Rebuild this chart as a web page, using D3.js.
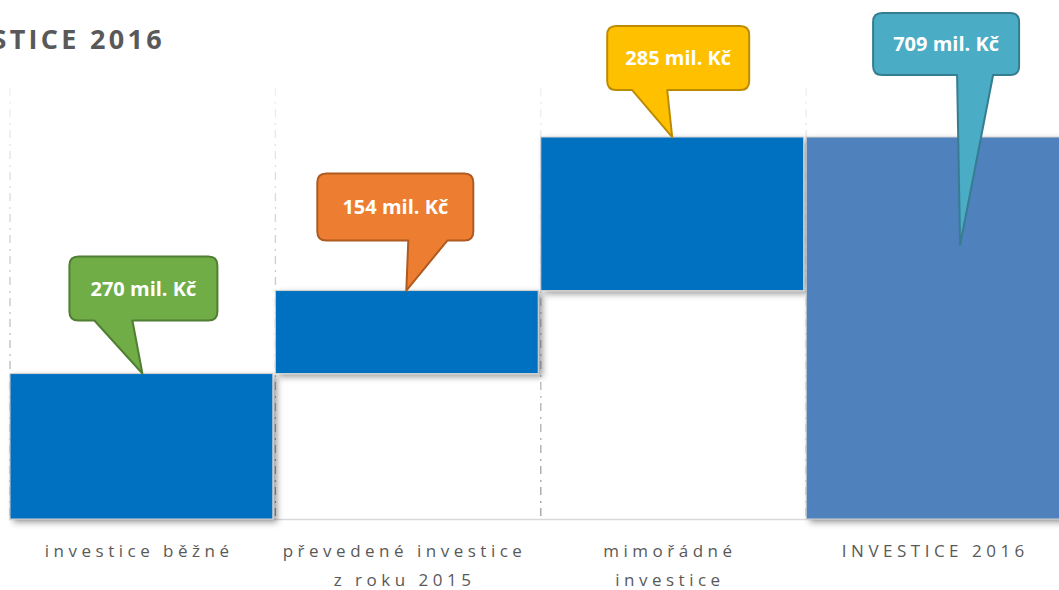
<!DOCTYPE html>
<html>
<head>
<meta charset="utf-8">
<script src="https://cdn.jsdelivr.net/npm/d3@7"></script>
<style>
  body { margin: 0; background: #fff; overflow: hidden; }
  svg { display: block; }
</style>
</head>
<body>
<svg id="chart" width="1059" height="590"></svg>
<script>
// data
const categories = ["investice běžné", "převedené investice|z roku 2015", "mimořádné|investice", "INVESTICE 2016"];
const values = [270, 154, 285];
const totalValue = 709;
const calloutTexts = ["270 mil. Kč", "154 mil. Kč", "285 mil. Kč", "709 mil. Kč"];
const title = "INVESTICE 2016";

// layout for the callouts (offsets from the point the tail touches)
const callouts = [
    { fill: "#70AD47", stroke: "#507E32", pdx: 1.5, pdy: 0, bx: -73, by: -117, w: 148, h: 64, tl: -48, tr: -10 },
    { fill: "#ED7D31", stroke: "#AE5A21", pdx: 0, pdy: 0, bx: -89, by: -117, w: 156, h: 67, tl: 2, tr: 41 },
    { fill: "#FFC000", stroke: "#BC8C00", pdx: 0.5, pdy: 0, bx: -65, by: -111, w: 142, h: 64, tl: -40, tr: -5 },
    { fill: "#4BACC6", stroke: "#357D91", pdx: 23, pdy: 108, bx: -87, by: -232, w: 146, h: 62, tl: -3, tr: 33 }
];

const svg = d3.select("#chart");

// waterfall steps
let acc = 0;
const bars = values.map((v, i) => {
    const b = { cat: categories[i], start: acc, end: acc + v, total: false };
    acc += v;
    return b;
});
bars.push({ cat: categories[3], start: 0, end: totalValue, total: true });

const x = d3.scaleBand().domain(categories).range([9, 1069]).paddingInner(0.006);
const y = d3.scaleLinear().domain([0, 800]).range([519, 88]);

const defs = svg.append("defs");
const f = defs.append("filter").attr("id", "shadow")
    .attr("x", "-5%").attr("y", "-5%").attr("width", "115%").attr("height", "120%");
f.append("feDropShadow").attr("dx", 4).attr("dy", 3).attr("stdDeviation", 3)
    .attr("flood-color", "#000").attr("flood-opacity", 0.38);

// gridline gets darker towards the bottom
defs.append("linearGradient")
    .attr("id", "grid-grad")
    .attr("gradientUnits", "userSpaceOnUse")
    .attr("x1", 0).attr("y1", y(800))
    .attr("x2", 0).attr("y2", y(0))
    .selectAll("stop")
    .data([
        { offset: "0%", color: "#f0f0f0" },
        { offset: "100%", color: "#9a9a9a" },
    ])
    .join("stop")
    .attr("offset", d => d.offset)
    .attr("stop-color", d => d.color);

// vertical dash-dot gridlines at band edges
svg.append("g").selectAll("line").data(categories).join("line")
    .attr("x1", d => x(d) + 1).attr("x2", d => x(d) + 1.001)
    .attr("y1", y(800)).attr("y2", y(0))
    .attr("stroke", "url(#grid-grad)").attr("stroke-width", 1.3)
    .attr("stroke-dasharray", "8,6,2,5");

// baseline
svg.append("line")
    .attr("x1", x(categories[0])).attr("x2", 1059)
    .attr("y1", y(0) + 0.5).attr("y2", y(0) + 0.5)
    .attr("stroke", "#d9d9d9").attr("stroke-width", 1.5);

// bars
svg.append("g").selectAll("rect").data(bars).join("rect")
    .attr("x", d => x(d.cat) + 1)
    .attr("y", d => y(d.end))
    .attr("width", x.bandwidth() - 1)
    .attr("height", d => y(d.start) - y(d.end))
    .attr("fill", d => d.total ? "#4F81BD" : "#0070C0")
    .attr("stroke", "#d0d0d0").attr("stroke-width", 1)
    .attr("filter", "url(#shadow)");

// callouts
function calloutPath(px, py, c) {
    const r = 9;
    const l = px + c.bx, t = py + c.by, rr = l + c.w, b = t + c.h;
    const p = d3.path();
    p.moveTo(l + r, t);
    p.lineTo(rr - r, t);
    p.quadraticCurveTo(rr, t, rr, t + r);
    p.lineTo(rr, b - r);
    p.quadraticCurveTo(rr, b, rr - r, b);
    p.lineTo(px + c.tr, b);
    p.lineTo(px, py);
    p.lineTo(px + c.tl, b);
    p.lineTo(l + r, b);
    p.quadraticCurveTo(l, b, l, b - r);
    p.lineTo(l, t + r);
    p.quadraticCurveTo(l, t, l + r, t);
    p.closePath();
    return p.toString();
}

const cg = svg.append("g").selectAll("g").data(bars).join("g");
cg.each(function(d, i) {
    const c = callouts[i];
    const px = x(d.cat) + x.bandwidth() / 2 + c.pdx;
    const py = y(d.end) + c.pdy;
    const g = d3.select(this);
    g.append("path").attr("d", calloutPath(px, py, c))
        .attr("fill", c.fill).attr("stroke", c.stroke).attr("stroke-width", 2)
        .attr("stroke-linejoin", "round");
    g.append("text")
        .attr("x", px + c.bx + c.w / 2)
        .attr("y", py + c.by + c.h / 2)
        .attr("dy", "0.36em")
        .attr("text-anchor", "middle")
        .attr("font-family", "Open Sans, sans-serif")
        .attr("font-weight", "bold")
        .attr("font-size", 20)
        .attr("fill", "#fff")
        .text(calloutTexts[i]);
});

// category labels
const ls = 4.5;
const lab = svg.append("g").selectAll("text").data(categories).join("text")
    .attr("x", d => x(d) + x.bandwidth() / 2 + ls / 2 - 4)
    .attr("y", 557)
    .attr("text-anchor", "middle")
    .attr("font-family", "Open Sans, sans-serif")
    .attr("font-size", 17)
    .attr("letter-spacing", ls)
    .attr("fill", "#595959");
lab.each(function(d) {
    const t = d3.select(this);
    d.split("|").forEach((line, k) => {
        t.append("tspan").attr("x", t.attr("x")).attr("dy", k ? 29 : 0).text(line);
    });
});

// title (cut off on the left, as in the original)
svg.append("text")
    .attr("x", 165).attr("y", 49)
    .attr("text-anchor", "end")
    .attr("font-family", "Open Sans, sans-serif")
    .attr("font-weight", "bold")
    .attr("font-size", 27)
    .attr("letter-spacing", 3.3)
    .attr("fill", "#595959")
    .text(title);
</script>
</body>
</html>
